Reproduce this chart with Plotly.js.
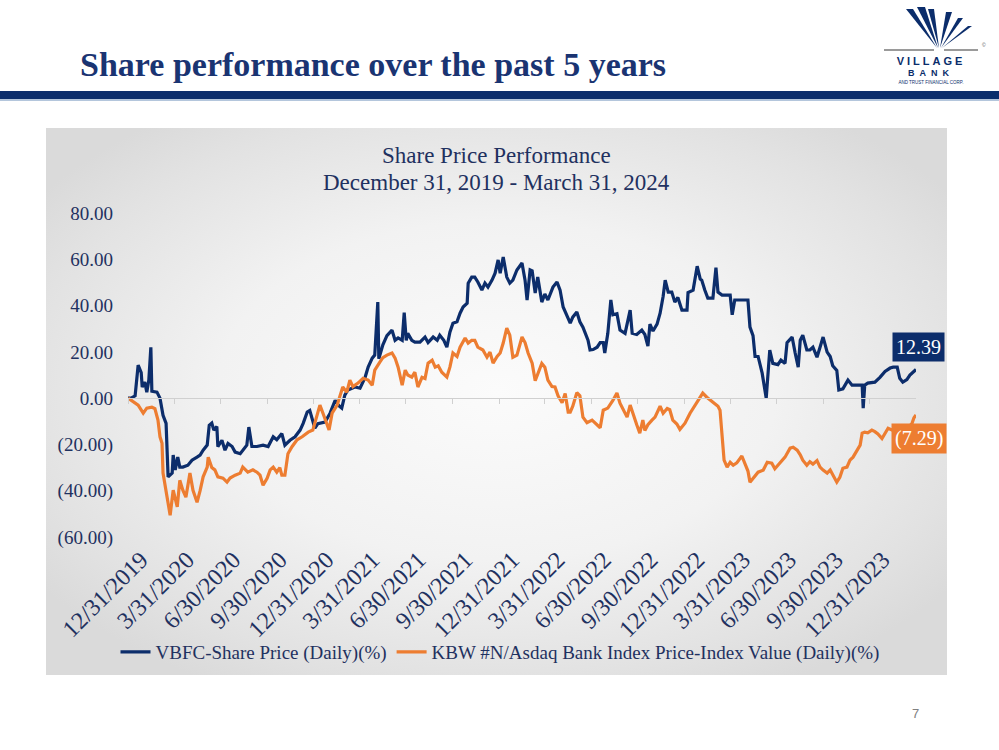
<!DOCTYPE html>
<html>
<head>
<meta charset="utf-8">
<script src="https://cdn.plot.ly/plotly-3.0.1.min.js"></script>
<style>
html,body{margin:0;padding:0;background:#fff;width:999px;height:750px;overflow:hidden;position:relative;}
#panel{position:absolute;left:46px;top:128px;width:901px;height:547px;
  background:radial-gradient(ellipse 62% 62% at 50% 48%, #fbfbfb 0%, #f2f2f2 50%, #e2e2e2 85%, #dadada 100%);}
#chart{position:absolute;left:0;top:0;width:999px;height:750px;}
#title{position:absolute;left:80px;top:46px;font-family:'Liberation Serif',serif;font-weight:bold;font-size:34px;color:#1a3472;white-space:nowrap;}
#bar{position:absolute;left:0;top:91px;width:999px;height:8px;background:#0b2d6b;}
#bar2{position:absolute;left:0;top:99px;width:999px;height:2px;background:#b4c6dc;}
#page{position:absolute;left:912px;top:706px;font-family:'Liberation Sans',sans-serif;font-size:13px;color:#808080;}
#logo{position:absolute;left:0;top:0;width:999px;height:100px;}
</style>
</head>
<body>
<div id="panel"></div>
<div id="chart"></div>
<div id="title">Share performance over the past 5 years</div>
<div id="bar"></div>
<div id="bar2"></div>
<svg id="logo" width="999" height="100" viewBox="0 0 999 100">
  <polygon points="906,9 913,9 937,48" fill="#0b2d6b"/>
  <polygon points="917,7 925,7 938,48" fill="#0b2d6b"/>
  <polygon points="928,9 934,9 939,48" fill="#0b2d6b"/>
  <polygon points="946,12 952,12 940,48" fill="#0b2d6b"/>
  <polygon points="958,18 963,18 941,48" fill="#0b2d6b"/>
  <polygon points="968,26 972,26 942,48" fill="#0b2d6b"/>
  <line x1="884" y1="50" x2="934" y2="50" stroke="#9a9a9a" stroke-width="2"/>
  <line x1="944" y1="50" x2="978" y2="50" stroke="#9a9a9a" stroke-width="2"/>
  <text x="982" y="47" font-family="Liberation Sans" font-size="5" fill="#555">©</text>
  <text x="931" y="65" text-anchor="middle" font-family="Liberation Sans" font-weight="bold" font-size="11" letter-spacing="3" fill="#0b2d6b">VILLAGE</text>
  <text x="931" y="76" text-anchor="middle" font-family="Liberation Sans" font-weight="bold" font-size="9" letter-spacing="5" fill="#0b2d6b">BANK</text>
  <text x="931" y="84" text-anchor="middle" font-family="Liberation Sans" font-size="4.5" fill="#0b2d6b">AND TRUST FINANCIAL CORP.</text>
</svg>
<div id="page">7</div>
<script>
// Days since 12/31/2019 and cumulative % change
const vbfcName = 'VBFC-Share Price (Daily)(%)';
const kbwName = 'KBW #N/Asdaq Bank Index Price-Index Value (Daily)(%)';
const chartTitle = 'Share Price Performance';
const chartSubtitle = 'December 31, 2019 - March 31, 2024';

const vbfcDays = [0,6,14,20,26,28,33,37,41,45,47,57,63,69,75,79,87,89,93,98,102,108,118,126,136,142,148,156,160,165,169,175,177,185,191,197,205,211,221,226,234,238,244,254,266,276,286,293,303,309,319,329,339,345,353,358,364,368,374,388,398,408,414,421,427,433,447,457,467,473,481,486,492,494,502,510,520,526,532,540,544,548,551,559,565,575,585,591,601,609,614,622,628,634,640,648,654,660,668,670,677,683,689,697,703,709,717,723,729,733,739,746,752,758,766,776,782,786,792,796,802,807,815,821,827,837,845,851,857,865,871,876,884,890,896,906,910,916,924,930,936,939,945,951,955,963,969,979,989,993,1002,1012,1018,1024,1028,1034,1042,1048,1054,1058,1064,1071,1077,1083,1091,1101,1103,1113,1121,1127,1130,1136,1142,1152,1158,1162,1170,1186,1190,1195,1205,1221,1225,1231,1235,1241,1249,1257,1260,1264,1270,1280,1286,1294,1298,1308,1314,1320,1324,1329,1337,1343,1349,1357,1363,1369,1377,1383,1388,1396,1400,1408,1418,1426,1432,1438,1446,1448,1451,1457,1471,1481,1491,1501,1507,1515,1520,1526,1534,1540,1546,1552];
const vbfcValues = [0,0,1,14.3,11,4.8,7,2.6,7.8,22,3,2.6,0,-7.4,-10.9,-34,-32.4,-24.6,-31,-25.5,-29.8,-29.8,-29,-26.8,-25.5,-24.6,-22.5,-20.3,-11.7,-10.8,-13.8,-12.3,-21,-18.2,-22.5,-19.6,-20.9,-23.3,-24,-22.5,-20.3,-12.5,-20.9,-20.9,-20.3,-20.9,-16.7,-18,-15.3,-20.3,-18.2,-16.7,-13.8,-10.9,-6,-5.3,-10.3,-13,-11,-10.3,-6.5,-0.9,-3,-4.3,1.3,3.5,4.8,4.3,9,13.4,17.3,18.6,41.5,17,23,27,29.4,25,26,25,37,25,28,25,24.2,24.2,26.4,24,26.4,25,27.2,25,22,28.5,32.4,33,36.7,39.4,41,49.7,52.3,52.3,50.2,46.7,49.7,48,51,54,59.7,54,61,52.3,49.7,51,55.4,58.4,51,42.4,55.4,55,45.4,52.3,41.5,45,42.4,48,50.2,46.7,39.4,35,32.4,35,37.2,33,30.7,25,20.8,21,22,24,24,19.5,28,42.4,36,36.5,29.4,28,38,28,27.5,29.4,27.5,22.5,32,29,32,36.7,44,51,45.8,45.8,41.5,43.5,38,38,45.6,46.7,57,51.5,51,46.7,43.2,43.2,56.4,45.8,44.5,44.5,36,42.4,42.4,42.4,30.7,27,18,18,10.8,0,9,20.8,15,14.5,16.4,15,24,26.4,19.5,13.4,25,27.2,20.8,20.8,22,17.7,22,26.4,19.9,18,14,12,3.5,4,7.8,5.6,5.6,5.6,5.6,-4.3,5.6,6.5,6.9,9,11.5,13,13.4,13.4,8.6,6.9,8,10,11,12.39];

const kbwDays = [0,10,20,30,37,47,53,59,63,67,69,77,83,89,97,102,108,114,122,128,136,142,148,156,158,165,171,177,187,195,201,211,221,226,236,246,254,260,266,274,280,286,293,299,303,309,315,323,333,343,355,364,372,378,384,392,396,402,412,418,423,431,437,443,453,463,473,481,486,496,502,510,520,526,532,540,546,551,559,565,571,579,585,591,599,605,611,618,628,634,640,648,654,664,670,677,683,689,699,707,713,719,727,733,739,746,752,758,766,776,782,788,796,802,807,815,821,827,835,841,847,855,861,867,871,876,884,890,896,904,914,920,930,936,945,955,963,969,975,983,989,995,1002,1008,1014,1018,1024,1032,1038,1048,1054,1062,1067,1073,1081,1087,1097,1107,1117,1127,1132,1140,1150,1156,1162,1166,1170,1174,1180,1186,1192,1199,1209,1215,1221,1225,1231,1241,1251,1259,1268,1274,1280,1284,1294,1304,1310,1318,1324,1329,1337,1343,1349,1357,1363,1369,1377,1383,1388,1396,1402,1408,1416,1422,1428,1436,1442,1446,1451,1457,1465,1471,1477,1485,1491,1497,1507,1517,1526,1536,1544,1548,1552];
const kbwValues = [0,-1.7,-3,-6.5,-4.3,-3.9,-4.5,-9.5,-16.7,-19.5,-32.4,-42.8,-50.6,-39.8,-47,-35.5,-39.8,-42.8,-32.4,-39.8,-45,-40,-34,-29.8,-25.5,-30,-31,-34,-34.6,-36.3,-34.5,-33.3,-32.4,-29.8,-32,-31,-32,-33.3,-37.6,-34.6,-31,-29.8,-32,-30,-33.3,-33.3,-24,-21,-18,-16.7,-14.7,-13.8,-8.2,-3,-6.5,-11.7,-13.8,-6.5,-3,1.3,4.8,2.6,7.8,5,6.5,8.6,7.8,5.6,12.1,15.6,17.5,18.6,19.5,17.3,13.4,5.6,12.1,10,9.1,11.2,4.8,9,8.5,15.1,16.4,13.4,14,11.2,9.1,13.4,19.5,18,22,26,23.8,25,25,22,20.8,17.7,19.9,15.1,18,19.5,23.8,30.3,27.2,17.7,18.6,26.4,24,19.5,15.1,7.5,10.8,15,13.4,7.8,5,4.8,1,-2,2,-6,-6,-3.5,2.4,1,-8.2,-10.6,-9.5,-10.8,-12.8,-5.2,-4.3,-1,2.2,-2.2,-5,-8.2,-3,-6.5,-11.5,-15.1,-9.5,-14,-11.5,-9.5,-8.2,-3.5,-6.5,-4.5,-5,-9.5,-11.2,-13.5,-10.8,-6.5,-3,0.2,2.2,0.4,-1.5,-2.5,-3.5,-5.2,-15,-26.8,-29.8,-27.7,-29,-28,-25,-28.1,-31.5,-36.3,-34.6,-32,-31.1,-27.7,-28.1,-30.5,-29,-28.1,-25.5,-21.6,-21.2,-22.5,-24.5,-26.8,-29,-27.5,-28.5,-27,-29.8,-31.1,-32.4,-31,-33.3,-36.3,-34.2,-30.3,-29.8,-26.8,-25.5,-22.5,-20.3,-15.1,-14.7,-15,-13.8,-14.5,-15.5,-17.5,-15,-13,-14,-13,-15,-13,-11,-8.5,-7.29];

const quarterDates = ['2019-12-31','2020-03-31','2020-06-30','2020-09-30','2020-12-31','2021-03-31','2021-06-30','2021-09-30','2021-12-31','2022-03-31','2022-06-30','2022-09-30','2022-12-31','2023-03-31','2023-06-30','2023-09-30','2023-12-31'];
const quarterLabels = ['12/31/2019','3/31/2020','6/30/2020','9/30/2020','12/31/2020','3/31/2021','6/30/2021','9/30/2021','12/31/2021','3/31/2022','6/30/2022','9/30/2022','12/31/2022','3/31/2023','6/30/2023','9/30/2023','12/31/2023'];
const yTickVals = [-60,-40,-20,0,20,40,60,80];
const yTickText = ['(60.00)','(40.00)','(20.00)','0.00','20.00','40.00','60.00','80.00'];
const xRange = ['2019-12-31','2024-03-31'];

const NAVY = '#0c2d6b';
const ORANGE = '#ed7d31';
const TEXT = '#1f3160';
const FONT = 'Liberation Serif, Times New Roman, serif';

const start = Date.UTC(2019, 11, 31);
const toDate = d => new Date(start + d * 86400000).toISOString().slice(0, 10);
const fmt = v => v < 0 ? '(' + Math.abs(v).toFixed(2) + ')' : v.toFixed(2);

const vbfcX = vbfcDays.map(toDate);
const kbwX = kbwDays.map(toDate);

const traces = [
  {x: vbfcX, y: vbfcValues, type: 'scatter', mode: 'lines', name: vbfcName,
   line: {color: NAVY, width: 3.2}, hoverinfo: 'skip'},
  {x: kbwX, y: kbwValues, type: 'scatter', mode: 'lines', name: kbwName,
   line: {color: ORANGE, width: 3.2}, hoverinfo: 'skip'},
  {x: quarterDates, y: quarterDates.map(() => null), xaxis: 'x2', yaxis: 'y',
   type: 'scatter', mode: 'lines', showlegend: false, hoverinfo: 'skip'}
];

const lastV = vbfcValues[vbfcValues.length - 1];
const lastK = kbwValues[kbwValues.length - 1];

const layout = {
  width: 999, height: 750,
  margin: {l: 128, r: 83, t: 213, b: 213, pad: 0},
  paper_bgcolor: 'rgba(0,0,0,0)',
  plot_bgcolor: 'rgba(0,0,0,0)',
  showlegend: true,
  xaxis: {
    type: 'date', range: xRange,
    tickmode: 'array', tickvals: quarterDates, ticktext: quarterLabels,
    tickangle: -45, ticks: '', showline: false, showgrid: false, zeroline: false,
    ticklabelshift: 13, ticklabelstandoff: 3,
    tickfont: {family: FONT, size: 24, color: TEXT}
  },
  xaxis2: {
    type: 'date', range: xRange, overlaying: 'x', anchor: 'free', position: 60 / 140,
    tickmode: 'array', tickvals: quarterDates, showticklabels: false,
    ticks: 'outside', ticklen: 5, tickwidth: 1, tickcolor: '#d0d0d0',
    showline: true, linecolor: '#d0d0d0', linewidth: 1, showgrid: false, zeroline: false
  },
  yaxis: {
    range: [-60, 80], tickmode: 'array', tickvals: yTickVals, ticktext: yTickText,
    showgrid: false, zeroline: false, showline: false, ticks: '',
    ticklabelstandoff: 14,
    tickfont: {family: FONT, size: 19, color: TEXT}
  },
  legend: {
    orientation: 'h', xref: 'container', yref: 'container',
    x: 500 / 999, xanchor: 'center', y: 1 - 652 / 750, yanchor: 'middle',
    font: {family: FONT, size: 19, color: TEXT}, bgcolor: 'rgba(0,0,0,0)',
    itemwidth: 30, tracegroupgap: 0
  },
  annotations: [
    {x: 0.4677, y: (537 - 155) / 324, xref: 'paper', yref: 'paper', text: chartTitle,
     showarrow: false, xanchor: 'center', yanchor: 'middle',
     font: {family: FONT, size: 23, color: TEXT}},
    {x: 0.4677, y: (537 - 182) / 324, xref: 'paper', yref: 'paper', text: chartSubtitle,
     showarrow: false, xanchor: 'center', yanchor: 'middle',
     font: {family: FONT, size: 23, color: TEXT}},
    {x: vbfcX[vbfcX.length - 1], y: lastV, xref: 'x', yref: 'y', text: fmt(lastV),
     showarrow: false, xanchor: 'center', yanchor: 'bottom', xshift: 2, yshift: 7,
     bgcolor: NAVY, borderpad: 3, font: {family: FONT, size: 20, color: '#ffffff'}},
    {x: kbwX[kbwX.length - 1], y: lastK, xref: 'x', yref: 'y', text: fmt(lastK),
     showarrow: false, xanchor: 'center', yanchor: 'top', xshift: 3, yshift: -8,
     bgcolor: ORANGE, borderpad: 3, font: {family: FONT, size: 20, color: '#ffffff'}}
  ]
};

Plotly.newPlot('chart', traces, layout, {staticPlot: true, displayModeBar: false});
</script>
</body>
</html>
